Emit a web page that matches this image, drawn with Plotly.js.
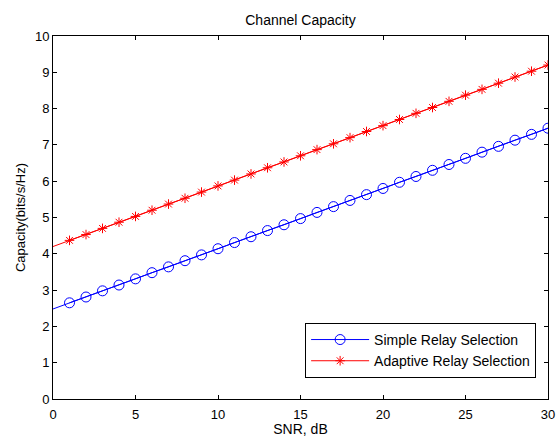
<!DOCTYPE html>
<html><head><meta charset="utf-8">
<script src="https://cdn.plot.ly/plotly-3.0.1.min.js"></script>
<style>html,body{margin:0;padding:0;background:#fff;}#chart{width:556px;height:437px;}</style>
</head><body><div id="chart"></div>
<script>
const snr = [0,1,2,3,4,5,6,7,8,9,10,11,12,13,14,15,16,17,18,19,20,21,22,23,24,25,26,27,28,29,30];
const simpleCap = [2.48,2.65,2.81,2.98,3.14,3.31,3.48,3.64,3.81,3.97,4.14,4.31,4.47,4.64,4.80,4.97,5.14,5.30,5.47,5.63,5.80,5.97,6.13,6.30,6.46,6.63,6.80,6.96,7.13,7.29,7.46];
const adaptiveCap = [4.20,4.37,4.53,4.70,4.87,5.03,5.20,5.37,5.53,5.70,5.87,6.03,6.20,6.37,6.53,6.70,6.87,7.03,7.20,7.37,7.53,7.70,7.87,8.03,8.20,8.37,8.53,8.70,8.87,9.03,9.20];
const seriesNames = ["Simple Relay Selection","Adaptive Relay Selection"];
const xTicks = [0,5,10,15,20,25,30];
const yTicks = [0,1,2,3,4,5,6,7,8,9,10];

const fam = "Liberation Sans, Arial, sans-serif";
const tickFont = {family:fam, size:13, color:"#000"};
const traces = [
  {x:snr, y:simpleCap, mode:"lines", line:{color:"#0000ff", width:1}, showlegend:false, hoverinfo:"skip"},
  {x:snr.slice(1), y:simpleCap.slice(1), mode:"lines+markers", name:seriesNames[0],
   line:{color:"#0000ff", width:1},
   marker:{symbol:"circle-open", size:10, color:"#0000ff", line:{color:"#0000ff", width:1}}},
  {x:snr, y:adaptiveCap, mode:"lines", line:{color:"#ff0000", width:1}, showlegend:false, hoverinfo:"skip"},
  {x:snr.slice(1), y:adaptiveCap.slice(1), mode:"lines+markers", name:seriesNames[1],
   line:{color:"#ff0000", width:1},
   marker:{symbol:"asterisk-open", size:8, color:"#ff0000", line:{color:"#ff0000", width:1}}}
];
const axisCommon = {showgrid:false, zeroline:false, showline:true, linecolor:"#000", linewidth:1,
  mirror:"ticks", ticks:"inside", ticklen:4, tickcolor:"#000", tickwidth:1, tickfont:tickFont};
const layout = {
  width:556, height:437,
  margin:{l:53, r:8, t:36, b:38},
  paper_bgcolor:"#fff", plot_bgcolor:"#fff",
  font:tickFont,
  title:{text:"Channel Capacity", font:{family:fam, size:14, color:"#000"}, xref:"paper", x:0.5, xanchor:"center", y:0.954, yanchor:"middle"},
  xaxis:Object.assign({}, axisCommon, {range:[0,30], tickvals:xTicks, ticktext:xTicks.map(String), ticklabelstandoff:3,
    title:{text:"SNR, dB", font:{family:fam, size:14, color:"#000"}, standoff:0}}),
  yaxis:Object.assign({}, axisCommon, {range:[0,10], tickvals:yTicks, ticktext:yTicks.map(String),
    title:{text:"Capacity(bits/s/Hz)", font:{family:fam, size:13, color:"#000"}, standoff:6}}),
  legend:{x:0.976, xanchor:"right", y:0.058, yanchor:"bottom", bgcolor:"#fff", bordercolor:"#000", borderwidth:1,
    font:{family:fam, size:14, color:"#000"}, tracegroupgap:0, itemwidth:58},
  showlegend:true
};
Plotly.newPlot("chart", traces, layout, {staticPlot:true, displayModeBar:false});
</script></body></html>
